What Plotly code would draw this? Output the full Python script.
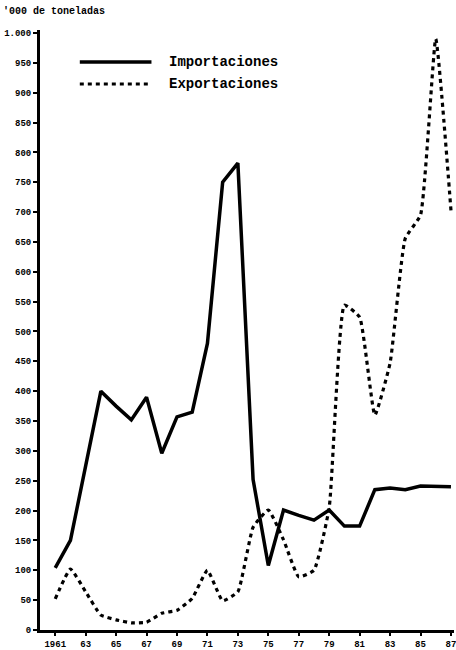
import plotly.graph_objects as go

years = list(range(1961, 1988))
importaciones = [104, 150, 275, 400, 375, 352, 390, 296, 357, 365, 480, 750, 782, 252,
                 108, 201, 192, 184, 201, 174, 174, 235, 238, 235, 241, 240, 240]
exportaciones = [52, 102, 64, 25, 17, 12, 13, 28, 33, 53, 100, 49, 64, 172,
                 201, 151, 89, 100, 205, 544, 524, 360, 447, 656, 695, 990, 703]

x_tickvals = [1961, 1963, 1965, 1967, 1969, 1971, 1973, 1975, 1977, 1979, 1981, 1983, 1985, 1987]
x_ticktext = ["1961", "63", "65", "67", "69", "71", "73", "75", "77", "79", "81", "83", "85", "87"]
y_tickvals = list(range(0, 1001, 50))
y_ticktext = ["0", "50", "100", "150", "200", "250", "300", "350", "400", "450", "500",
              "550", "600", "650", "700", "750", "800", "850", "900", "950", "1.000"]

series_names = ["Importaciones", "Exportaciones"]
units_label = "'000 de toneladas"

FONT = "Liberation Mono"

fig = go.Figure()
fig.add_trace(go.Scatter(x=years, y=importaciones, mode="lines", name=series_names[0],
                         line=dict(color="black", width=3.5), showlegend=False))
fig.add_trace(go.Scatter(x=years, y=exportaciones, mode="lines", name=series_names[1],
                         line=dict(color="black", width=3.2, dash="4px,4px", shape="spline", smoothing=0.4),
                         showlegend=False))

L, R, T, B = 40, 0, 30, 20
W, H = 456, 650
pw, ph = W - L - R, H - T - B

def px(xp):
    return (xp - L) / pw

def py(yp):
    return (H - B - yp) / ph

# legend drawn manually
fig.add_shape(type="line", xref="paper", yref="paper", x0=px(80), x1=px(152), y0=py(62), y1=py(62),
              line=dict(color="black", width=3.5))
fig.add_shape(type="line", xref="paper", yref="paper", x0=px(80), x1=px(152), y0=py(84), y1=py(84),
              line=dict(color="black", width=3.2, dash="4px,4px"))
fig.add_annotation(xref="paper", yref="paper", x=px(168), y=py(62), text=series_names[0],
                   showarrow=False, xanchor="left", yanchor="middle",
                   font=dict(family=FONT, size=14, color="black", weight="bold"))
fig.add_annotation(xref="paper", yref="paper", x=px(168), y=py(84), text=series_names[1],
                   showarrow=False, xanchor="left", yanchor="middle",
                   font=dict(family=FONT, size=14, color="black", weight="bold"))
fig.add_annotation(xref="paper", yref="paper", x=px(1), y=py(12), text=units_label,
                   showarrow=False, xanchor="left", yanchor="middle",
                   font=dict(family=FONT, size=10, color="black", weight="bold"))

fig.update_layout(
    width=W, height=H,
    margin=dict(l=L, r=R, t=T, b=B),
    paper_bgcolor="white", plot_bgcolor="white",
    showlegend=False,
    xaxis=dict(range=[1960.0, 1987.2], tickvals=x_tickvals, ticktext=x_ticktext,
               showgrid=False, zeroline=False, showline=True, linecolor="black", linewidth=3,
               ticks="outside", ticklen=3, tickwidth=2, tickcolor="black",
               ticklabeloverflow="allow",
               tickfont=dict(family=FONT, size=9, color="black", weight="bold")),
    yaxis=dict(range=[0, 1005], tickvals=y_tickvals, ticktext=y_ticktext,
               showgrid=False, zeroline=False, showline=True, linecolor="black", linewidth=3,
               ticks="outside", ticklen=4, tickwidth=2, tickcolor="black",
               ticklabeloverflow="allow",
               tickfont=dict(family=FONT, size=9, color="black", weight="bold")),
)

fig.write_html("out.html", config={"displayModeBar": False},
               post_script="document.body.style.margin='0';document.body.style.padding='0';")
